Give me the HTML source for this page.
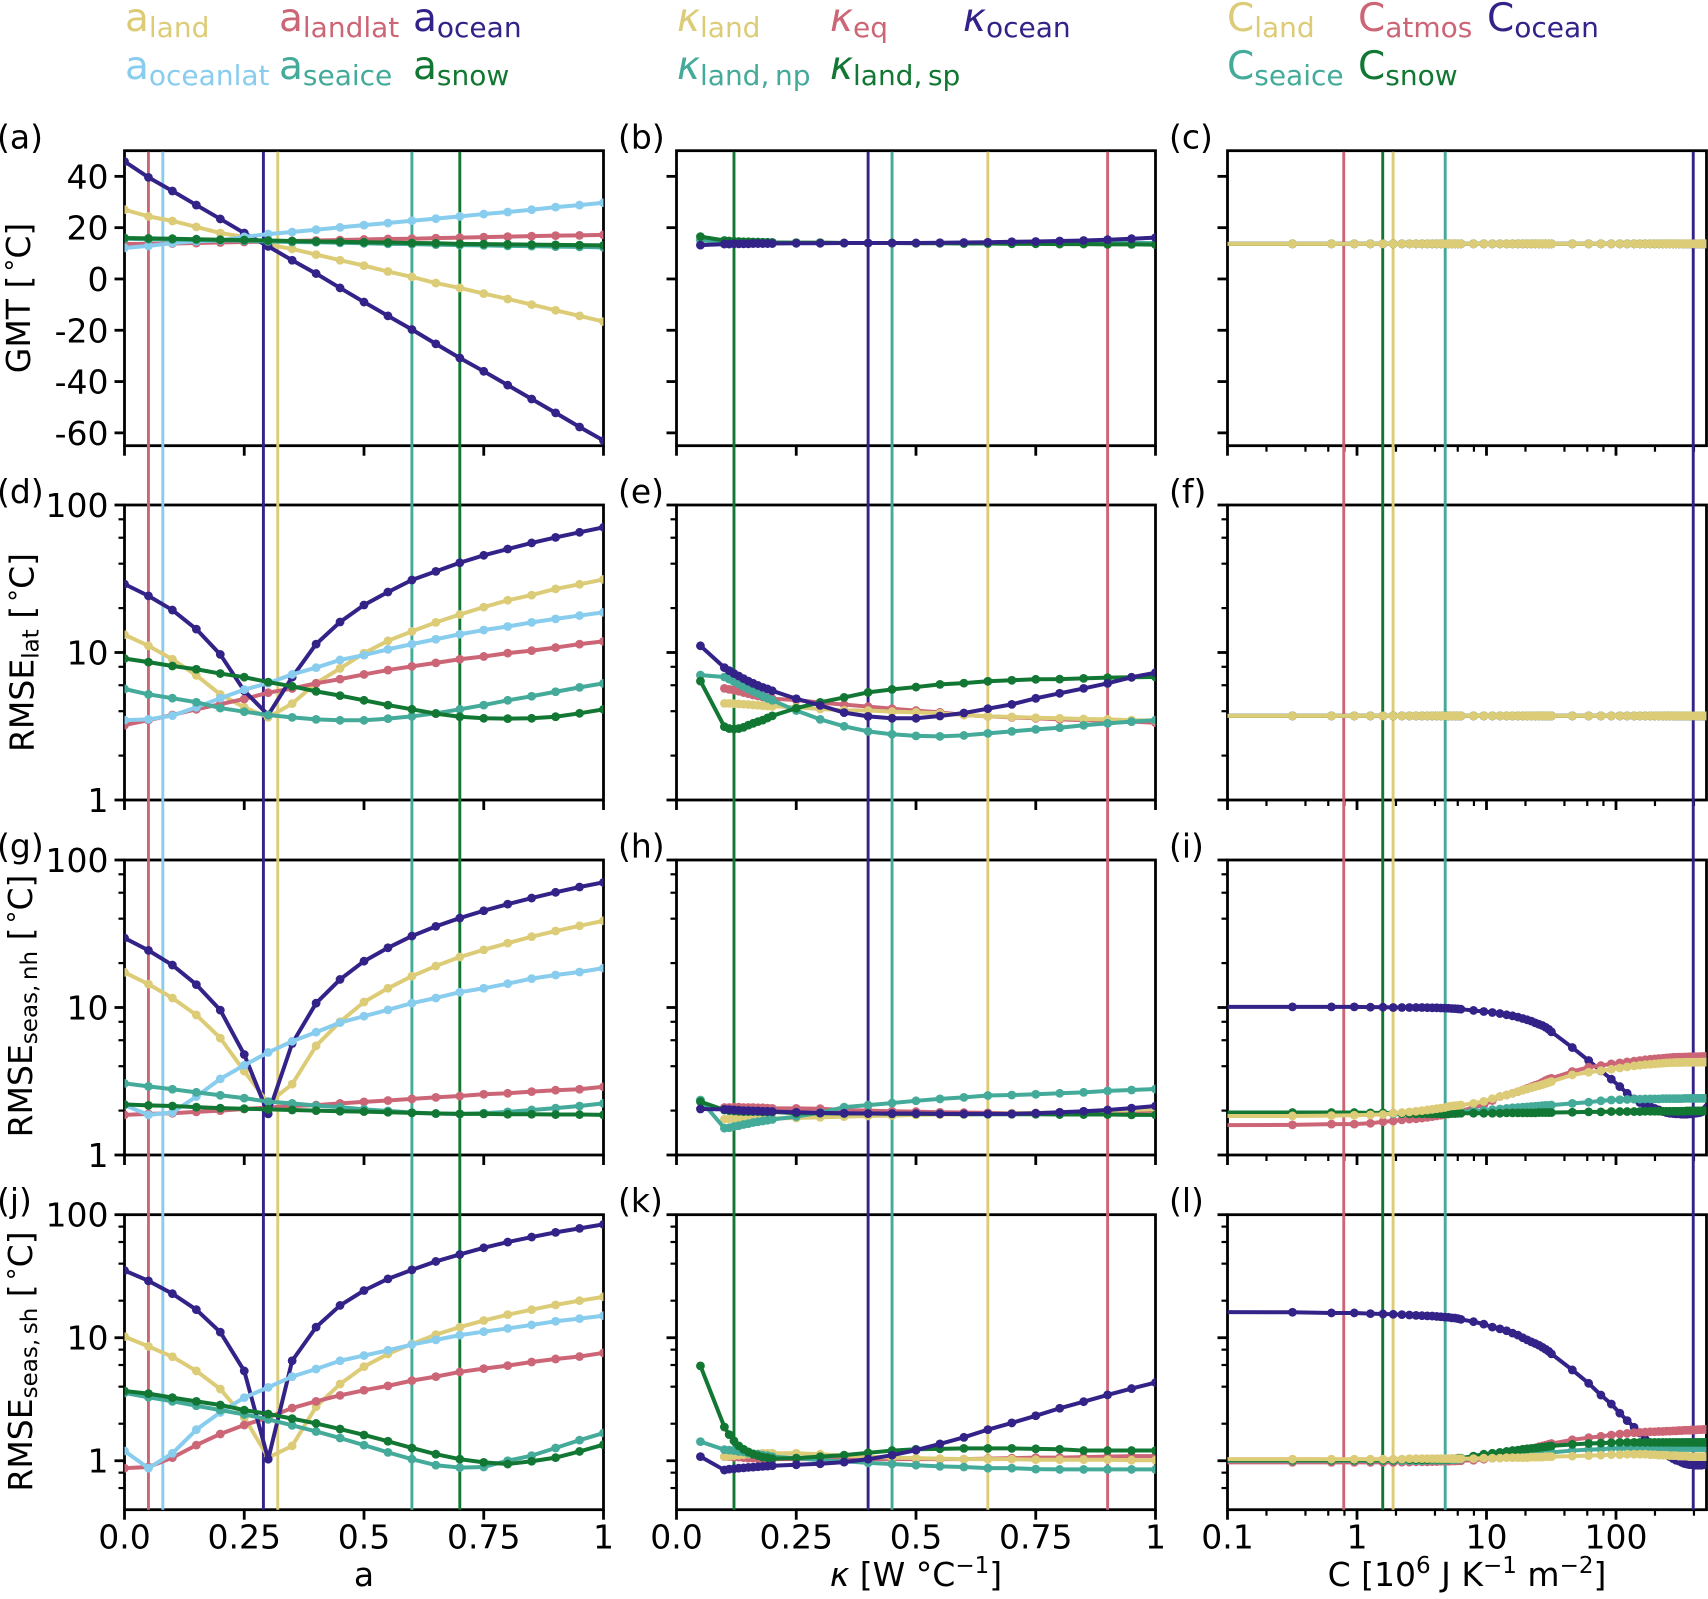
<!DOCTYPE html>
<html lang="en">
<head>
<meta charset="utf-8">
<title>Parameter sensitivity chart</title>
<style>
html,body{margin:0;padding:0;background:#fff;width:1708px;height:1599px;overflow:hidden}
svg{display:block;filter:blur(0.35px)}
text{font-family:"DejaVu Sans","Liberation Sans",sans-serif;fill:#000}
.lg{font-size:39px}
.lg tspan.s{font-size:28px}
.tl{font-size:33px}
.m{font-style:italic}
</style>
</head>
<body>
<svg id="chart" xmlns="http://www.w3.org/2000/svg" width="1708" height="1599" viewBox="0 0 1708 1599">
<rect x="0" y="0" width="1708" height="1599" fill="#fff"/>
<g id="axesLayer"></g>
<g id="vlineLayer"></g>
<g id="seriesLayer"></g>
<g id="tickLabelLayer"></g>

<g>
<text class="lg" x="125" y="31" style="fill:#DDCC77">a<tspan class="s" dy="6">land</tspan></text>
<text class="lg" x="279" y="31" style="fill:#CC6677">a<tspan class="s" dy="6">landlat</tspan></text>
<text class="lg" x="413" y="31" style="fill:#332288">a<tspan class="s" dy="6">ocean</tspan></text>
<text class="lg" x="125" y="79" style="fill:#88CCEE">a<tspan class="s" dy="6">oceanlat</tspan></text>
<text class="lg" x="279" y="79" style="fill:#44AA99">a<tspan class="s" dy="6">seaice</tspan></text>
<text class="lg" x="413" y="79" style="fill:#117733">a<tspan class="s" dy="6">snow</tspan></text>
</g>
<g>
<text class="lg" x="677" y="31" style="fill:#DDCC77"><tspan class="m">κ</tspan><tspan class="s" dy="6">land</tspan></text>
<text class="lg" x="830" y="31" style="fill:#CC6677"><tspan class="m">κ</tspan><tspan class="s" dy="6">eq</tspan></text>
<text class="lg" x="963" y="31" style="fill:#332288"><tspan class="m">κ</tspan><tspan class="s" dy="6">ocean</tspan></text>
<text class="lg" x="677" y="79" style="fill:#44AA99"><tspan class="m">κ</tspan><tspan class="s" dy="6">land,&#8201;np</tspan></text>
<text class="lg" x="830" y="79" style="fill:#117733"><tspan class="m">κ</tspan><tspan class="s" dy="6">land,&#8201;sp</tspan></text>
</g>
<g>
<text class="lg" x="1227" y="31" style="fill:#DDCC77">C<tspan class="s" dy="6">land</tspan></text>
<text class="lg" x="1358" y="31" style="fill:#CC6677">C<tspan class="s" dy="6">atmos</tspan></text>
<text class="lg" x="1487" y="31" style="fill:#332288">C<tspan class="s" dy="6">ocean</tspan></text>
<text class="lg" x="1227" y="79" style="fill:#44AA99">C<tspan class="s" dy="6">seaice</tspan></text>
<text class="lg" x="1358" y="79" style="fill:#117733">C<tspan class="s" dy="6">snow</tspan></text>
</g>

<g>
<text class="tl" x="-3" y="148.5">(a)</text>
<text class="tl" x="618" y="148.5">(b)</text>
<text class="tl" x="1169" y="148.5">(c)</text>
<text class="tl" x="-3" y="503">(d)</text>
<text class="tl" x="618" y="503">(e)</text>
<text class="tl" x="1169" y="503">(f)</text>
<text class="tl" x="-3" y="857.5">(g)</text>
<text class="tl" x="618" y="857.5">(h)</text>
<text class="tl" x="1169" y="857.5">(i)</text>
<text class="tl" x="-3" y="1212">(j)</text>
<text class="tl" x="618" y="1212">(k)</text>
<text class="tl" x="1169" y="1212">(l)</text>
</g>

<g>
<text class="tl" transform="translate(30,298) rotate(-90)" text-anchor="middle">GMT [<tspan dx="4" font-size="26" dy="-6">°</tspan><tspan dy="6">C]</tspan></text>
<text class="tl" transform="translate(33.5,652.5) rotate(-90)" text-anchor="middle">RMSE<tspan font-size="23" dy="5">lat</tspan><tspan dy="-5"> [</tspan><tspan dx="4" font-size="26" dy="-6">°</tspan><tspan dy="6">C]</tspan></text>
<text class="tl" transform="translate(32,1006) rotate(-90)" text-anchor="middle">RMSE<tspan font-size="23" dy="5">seas,&#8201;nh</tspan><tspan dy="-5"> [</tspan><tspan dx="4" font-size="26" dy="-6">°</tspan><tspan dy="6">C]</tspan></text>
<text class="tl" transform="translate(32,1361.5) rotate(-90)" text-anchor="middle">RMSE<tspan font-size="23" dy="5">seas,&#8201;sh</tspan><tspan dy="-5"> [</tspan><tspan dx="4" font-size="26" dy="-6">°</tspan><tspan dy="6">C]</tspan></text>
<text class="tl" x="364" y="1586" text-anchor="middle">a</text>
<text class="tl" x="916" y="1586" text-anchor="middle"><tspan class="m">κ</tspan> [W °C<tspan font-size="23" dy="-13">−1</tspan><tspan dy="13">]</tspan></text>
<text class="tl" x="1467" y="1586" text-anchor="middle">C [10<tspan font-size="23" dy="-13">6</tspan><tspan dy="13"> J K</tspan><tspan font-size="23" dy="-13">−1</tspan><tspan dy="13"> m</tspan><tspan font-size="23" dy="-13">−2</tspan><tspan dy="13">]</tspan></text>
</g>
</svg>

<script>
// ---------- x positions of the model runs ----------
const albedoX = [0,.05,.1,.15,.2,.25,.3,.35,.4,.45,.5,.55,.6,.65,.7,.75,.8,.85,.9,.95,1];
const kappaX = [.05,.1,.11,.12,.13,.14,.15,.16,.17,.18,.19,.2,.25,.3,.35,.4,.45,.5,.55,.6,.65,.7,.75,.8,.85,.9,.95,1];
const capX = [0.05,
 .3175,.635,.9525,1.27,1.5875,1.905,2.2225,2.54,2.8575,3.175,3.4925,3.81,4.1275,4.445,4.7625,5.08,5.3975,5.715,6.0325,6.35,
 7.94,9.53,11.1,12.7,14.3,15.9,17.5,19.05,20.6,22.2,23.8,25.4,27,28.6,30.2,31.75,
 46,61.5,76.5,92,107,122,138,153,168,184,199,214,230,245,260,276,291,306,322,337,352,368,383,398,413,429,444,459,475,490,505];

// ---------- default parameter values (vertical lines) ----------
const albedoDefaults = [.05,.08,.29,.32,.6,.7];
const albedoDefaultNames = ['landlat','oceanlat','ocean','land','seaice','snow'];
const kappaDefaults = [.12,.4,.45,.65,.9];
const kappaDefaultNames = ['land-sp','ocean','land-np','land','eq'];
const capDefaults = [.79,1.58,1.9,4.8,395];
const capDefaultNames = ['atmos','snow','land','seaice','ocean'];

// ---------- tick labels ----------
const linearXTicks = [0,.25,.5,.75,1];
const linearXLabels = ['0.0','0.25','0.5','0.75','1'];
const capXTicks = [.1,1,10,100];
const capXLabels = ['0.1','1','10','100'];
const capXMinor = [.2,.4,.6,.8,2,4,6,8,20,40,60,80,200,400];
const gmtTicks = [40,20,0,-20,-40,-60];
const gmtLabels = ['40','20','0','-20','-40','-60'];
const logTicks = [100,10,1];
const logLabels = ['100','10','1'];
const logMinor = [.6,.8,.4,2,4,6,8,20,40,60,80];

// ---------- panel (a) GMT vs albedo ----------
const aLand = [27,24.4,22.6,20.3,17.9,16.4,13.4,11.7,9.5,7.3,5.2,2.9,.8,-1.6,-3.5,-5.7,-7.8,-10,-12.2,-14.4,-16.6];
const aLandlat = [13.6,13.7,13.8,14,14.2,14.4,14.6,14.8,15,15.2,15.4,15.6,15.7,15.9,16.1,16.3,16.5,16.7,16.9,17,17.2];
const aOcean = [45.8,39.6,34.3,28.8,23.4,17.9,12.7,7.3,2.1,-3.5,-9,-14.4,-19.7,-25.3,-30.8,-36,-41.4,-46.8,-52.2,-57.7,-63];
const aOceanlat = [12.1,12.9,14,14.7,15,16.4,17.5,18.3,19.2,20.1,21,21.8,22.7,23.5,24.4,25.3,26.1,27,28,28.8,29.7];
const aSeaice = [15.7,15.5,15.4,15.2,15.1,14.9,14.6,14.4,14.3,14.1,13.9,13.7,13.6,13.4,13.2,13.1,12.9,12.8,12.6,12.5,12.3];
const aSnow = [16,15.8,15.7,15.5,15.3,15.2,15,14.8,14.6,14.5,14.3,14.2,14,13.9,13.7,13.6,13.5,13.4,13.3,13.2,13.1];

// ---------- panel (d) RMSE lat vs albedo ----------
const dLand = [13.2,11.1,9,7,5.2,4.25,3.63,4.5,6.2,7.8,9.9,12,13.9,16,18.1,20.3,22.6,24.5,27,29,31.3];
const dLandlat = [3.22,3.48,3.77,4.12,4.46,4.84,5.34,5.7,6.18,6.6,7.1,7.6,8.05,8.5,9,9.4,9.9,10.3,10.8,11.4,11.9];
const dOcean = [29.1,24.2,19.4,14.4,9.7,5.5,3.77,6.8,11.4,16.1,21,25.7,31,35.5,40.6,45.6,50.3,55.3,60.3,65.3,70.6];
const dOceanlat = [3.48,3.52,3.73,4.25,4.9,5.6,6.2,7.1,7.9,8.9,9.6,10.5,11.4,12.3,13.3,14.2,15,16,16.9,17.8,18.7];
const dSeaice = [5.66,5.2,4.9,4.6,4.2,3.97,3.77,3.63,3.52,3.47,3.47,3.56,3.69,3.87,4.12,4.4,4.74,5.05,5.42,5.8,6.18];
const dSnow = [9.1,8.6,8.1,7.7,7.2,6.8,6.3,5.9,5.45,5.1,4.74,4.4,4.12,3.85,3.67,3.58,3.56,3.58,3.67,3.87,4.12];

// ---------- panel (g) RMSE seasonal NH vs albedo ----------
const gLand = [17.3,14.4,11.6,8.9,6.2,3.7,2.25,3.02,5.5,8,10.9,13.5,16.3,19.1,22,24.6,27.3,30.2,33,35.8,38.7];
const gLandlat = [1.87,1.9,1.92,1.96,2,2.05,2.1,2.15,2.18,2.24,2.29,2.34,2.4,2.46,2.51,2.58,2.62,2.69,2.75,2.79,2.9];
const gOcean = [29.6,24.4,19.4,14.3,9.6,4.8,1.9,5.7,10.7,15.5,20.6,25.4,30.5,35.5,40.4,45.3,50.2,55.2,60.4,65.6,70.5];
const gOceanlat = [2.18,1.87,1.94,2.49,3.28,4.06,4.96,5.9,6.8,7.9,8.73,9.64,10.7,11.6,12.7,13.5,14.5,15.7,16.6,17.4,18.5];
const gSeaice = [3.06,2.92,2.79,2.66,2.54,2.43,2.3,2.24,2.16,2.11,2.04,1.99,1.94,1.91,1.9,1.92,1.96,2.02,2.08,2.15,2.24];
const gSnow = [2.2,2.17,2.15,2.11,2.08,2.06,2.04,2.02,2,1.98,1.97,1.95,1.93,1.91,1.9,1.9,1.89,1.89,1.88,1.88,1.87];

// ---------- panel (j) RMSE seasonal SH vs albedo ----------
const jLand = [10.2,8.5,7,5.37,3.83,2.25,1.06,1.32,2.75,4.2,5.82,7.38,8.9,10.6,12.2,13.8,15.4,16.9,18.5,20,21.5];
const jLandlat = [.87,.89,1.06,1.34,1.65,1.95,2.25,2.68,3.04,3.4,3.74,4.06,4.48,4.83,5.27,5.61,5.93,6.35,6.72,7.03,7.53];
const jOcean = [35.2,29,22.8,16.9,11.1,5.37,1.03,6.5,12.2,18.3,24.2,30.1,35.6,41.7,47.5,53.8,59.9,65.8,71.8,77.4,83.4];
const jOceanlat = [1.2,.87,1.15,1.79,2.47,3.26,3.95,4.83,5.57,6.5,7.16,7.9,8.8,9.6,10.5,11.2,11.9,12.7,13.6,14.3,15.1];
const jSeaice = [3.56,3.28,3.04,2.8,2.58,2.38,2.17,1.94,1.73,1.53,1.34,1.17,1.03,.92,.88,.89,1,1.1,1.27,1.47,1.68];
const jSnow = [3.69,3.51,3.26,3.04,2.84,2.58,2.4,2.2,2.01,1.81,1.62,1.44,1.27,1.13,1.03,.97,.94,.99,1.06,1.19,1.35];

// ---------- panel (b) GMT vs kappa ----------
const bEq = [null,14.4,14.4,14.4,14.3,14.3,14.3,14.3,14.2,14.2,14.2,14.2,14.1,14.1,14,14,14,14,14,14,14,14,14,14,14,14,14,14];
const bLand = [null,14.1,14.1,14.1,14.1,14.1,14.1,14.1,14.1,14.1,14.1,14.1,14.1,14.1,14,14,14,14,14,14,14,14,14,14,14,14,14,14];
const bNp = [15,14.6,14.5,14.4,14.4,14.3,14.3,14.3,14.2,14.2,14.2,14.2,14.1,14.1,14,14,14,14,14,14,14,14,14,14,14,14,14,14];
const bSp = [16.5,15,14.8,14.7,14.6,14.5,14.5,14.4,14.4,14.3,14.3,14.2,14.1,14.1,14,14,14,13.9,13.9,13.8,13.8,13.7,13.7,13.6,13.6,13.5,13.5,13.4];
const bOcean = [13.2,13.6,13.6,13.7,13.7,13.7,13.7,13.8,13.8,13.8,13.8,13.8,13.9,13.9,14,14,14,14,14.1,14.2,14.3,14.5,14.6,14.8,15,15.3,15.7,16.1];

// ---------- panel (e) RMSE lat vs kappa ----------
const eEq = [null,5.71,5.62,5.55,5.46,5.35,5.26,5.15,5.07,4.99,4.93,4.86,4.76,4.57,4.43,4.3,4.16,4.04,3.93,3.77,3.69,3.63,3.58,3.52,3.48,3.45,3.4,3.34];
const eLand = [null,4.52,4.52,4.5,4.48,4.46,4.44,4.41,4.39,4.36,4.34,4.31,4.25,4.14,4.06,4.04,3.97,3.93,3.87,3.77,3.69,3.66,3.61,3.58,3.54,3.52,3.48,3.45];
const eNp = [7.03,6.82,6.6,6.34,6.12,5.87,5.66,5.46,5.26,5.07,4.89,4.74,4.04,3.52,3.16,2.92,2.79,2.72,2.7,2.74,2.83,2.92,3.01,3.09,3.21,3.31,3.4,3.48];
const eSp = [6.4,3.14,3.05,3.03,3.05,3.11,3.22,3.31,3.4,3.48,3.6,3.72,4.19,4.59,4.96,5.37,5.62,5.83,6.08,6.2,6.38,6.48,6.58,6.6,6.68,6.75,6.79,6.82];
const eOcean = [11.1,7.9,7.53,7.2,6.93,6.65,6.4,6.18,5.98,5.8,5.66,5.5,4.86,4.38,3.91,3.69,3.58,3.58,3.71,3.89,4.16,4.45,4.89,5.29,5.71,6.18,6.79,7.3];

// ---------- panel (h) RMSE seasonal NH vs kappa ----------
const hEq = [null,2.1,2.1,2.11,2.11,2.1,2.1,2.1,2.09,2.09,2.08,2.07,2.07,2.06,2.02,2,1.98,1.97,1.95,1.94,1.93,1.92,1.92,1.92,1.95,1.97,1.98,2];
const hLand = [null,1.75,1.76,1.76,1.77,1.77,1.77,1.77,1.77,1.77,1.77,1.77,1.78,1.8,1.82,1.84,1.85,1.87,1.88,1.89,1.9,1.92,1.93,1.94,1.96,1.99,2.02,2.05];
const hNp = [2.36,1.52,1.53,1.56,1.58,1.61,1.63,1.66,1.68,1.7,1.72,1.74,1.82,1.94,2.11,2.18,2.25,2.33,2.4,2.46,2.53,2.55,2.58,2.62,2.66,2.72,2.76,2.8];
const hSp = [2.3,2.02,2,1.99,1.98,1.97,1.97,1.97,1.97,1.96,1.96,1.96,1.92,1.92,1.91,1.91,1.9,1.9,1.9,1.89,1.89,1.89,1.89,1.88,1.88,1.88,1.87,1.87];
const hOcean = [2.05,2.04,2.03,2.02,2.01,2,2,1.99,1.99,1.98,1.98,1.97,1.95,1.93,1.92,1.91,1.91,1.91,1.9,1.9,1.9,1.9,1.92,1.95,1.98,2.02,2.08,2.15];

// ---------- panel (k) RMSE seasonal SH vs kappa ----------
const kEq = [null,1.08,1.08,1.07,1.07,1.06,1.05,1.05,1.04,1.04,1.04,1.03,1.03,1.03,1.03,1.03,1.03,1.03,1.03,1.03,1.04,1.05,1.06,1.06,1.07,1.08,1.09,1.09];
const kLand = [null,1.08,1.09,1.1,1.11,1.12,1.13,1.14,1.14,1.15,1.15,1.15,1.15,1.13,1.1,1.08,1.06,1.05,1.04,1.03,1.03,1.03,1.02,1.02,1.02,1.02,1.01,1.01];
const kNp = [1.43,1.23,1.22,1.21,1.19,1.18,1.15,1.14,1.13,1.11,1.1,1.08,1.05,1.01,.99,.96,.94,.92,.9,.89,.87,.87,.855,.85,.85,.85,.85,.85];
const kSp = [5.9,1.88,1.63,1.45,1.32,1.24,1.18,1.13,1.1,1.07,1.06,1.04,1.05,1.08,1.11,1.16,1.21,1.24,1.25,1.26,1.26,1.26,1.25,1.24,1.21,1.21,1.21,1.21];
const kOcean = [1.08,.84,.855,.86,.87,.875,.883,.888,.894,.9,.905,.91,.927,.945,.975,1.03,1.11,1.22,1.37,1.55,1.79,2.03,2.32,2.67,3.02,3.43,3.86,4.32];

// ---------- panels (c) and (f): all capacity runs coincide ----------
const cAll = [13.7,13.7,13.7,13.7,13.7,13.7,13.7,13.7,13.7,13.7,13.7,13.7,13.7,13.7,13.7,13.7,13.7,13.7,13.7,13.7,13.7,13.7,13.7,13.7,13.7,13.7,13.7,13.7,13.7,13.7,13.7,13.7,13.7,13.7,13.7,13.7,13.7,13.7,13.7,13.7,13.7,13.7,13.7,13.7,13.7,13.7,13.7,13.7,13.7,13.7,13.7,13.7,13.7,13.7,13.7,13.7,13.7,13.7,13.7,13.7,13.7,13.7,13.7,13.7,13.7,13.7,13.7,13.7];
const fAll = [3.72,3.72,3.72,3.72,3.72,3.72,3.72,3.72,3.72,3.72,3.72,3.72,3.72,3.72,3.72,3.72,3.72,3.72,3.72,3.72,3.72,3.72,3.72,3.72,3.72,3.72,3.72,3.72,3.72,3.72,3.72,3.72,3.72,3.72,3.72,3.72,3.72,3.72,3.72,3.72,3.72,3.72,3.72,3.72,3.72,3.72,3.72,3.72,3.72,3.72,3.72,3.72,3.72,3.72,3.72,3.72,3.72,3.72,3.72,3.72,3.72,3.72,3.72,3.72,3.72,3.72,3.72,3.72];

// ---------- panel (i) RMSE seasonal NH vs capacity ----------
const iOcean = [10.1,
 10.1,10.1,10.1,10.05,10.05,10,10,10,10,10,9.97,9.95,9.95,9.92,9.9,9.88,9.85,9.82,9.78,9.74,
 9.55,9.39,9.25,9.1,8.92,8.78,8.6,8.42,8.25,8.08,7.87,7.7,7.55,7.35,7.12,6.84,
 5.35,4.37,3.72,3.27,2.91,2.62,2.4,2.27,2.18,2.13,2.07,2.02,1.97,1.94,1.92,1.91,1.9,1.9,1.89,1.89,1.89,1.9,1.9,1.91,1.92,1.93,1.94,1.96,1.99,2.04,2.1];
const iAtmos = [1.59,
 1.6,1.62,1.62,1.64,1.68,1.7,1.73,1.75,1.76,1.78,1.8,1.82,1.84,1.86,1.88,1.9,1.92,1.94,1.96,1.99,
 2.1,2.18,2.34,2.49,2.55,2.62,2.69,2.76,2.83,2.9,2.97,3.03,3.11,3.2,3.27,3.31,
 3.68,3.94,4.04,4.15,4.21,4.28,4.33,4.37,4.42,4.46,4.48,4.51,4.53,4.55,4.57,4.6,4.6,4.61,4.61,4.62,4.62,4.63,4.63,4.63,4.64,4.64,4.64,4.65,4.65,4.65,4.65];
const iSeaice = [1.92,
 1.92,1.92,1.91,1.91,1.9,1.9,1.9,1.9,1.9,1.9,1.9,1.91,1.92,1.93,1.94,1.94,1.95,1.96,1.97,1.97,
 1.99,2,2.03,2.05,2.07,2.09,2.1,2.11,2.12,2.13,2.14,2.15,2.16,2.17,2.17,2.18,
 2.24,2.28,2.33,2.36,2.37,2.38,2.39,2.39,2.4,2.4,2.4,2.4,2.41,2.41,2.41,2.41,2.41,2.41,2.41,2.42,2.42,2.42,2.42,2.42,2.42,2.42,2.42,2.42,2.42,2.42,2.42];
const iSnow = [1.94,
 1.94,1.94,1.94,1.93,1.93,1.92,1.91,1.9,1.9,1.9,1.9,1.9,1.9,1.9,1.9,1.9,1.91,1.91,1.92,1.92,
 1.92,1.92,1.92,1.92,1.93,1.93,1.93,1.93,1.93,1.93,1.93,1.94,1.94,1.94,1.94,1.94,
 1.95,1.96,1.96,1.97,1.97,1.97,1.97,1.97,1.98,1.98,1.98,1.98,1.98,1.98,1.98,1.98,1.98,1.98,1.98,1.98,1.99,1.99,1.99,1.99,1.99,1.99,1.99,1.99,1.99,1.99,1.99];
const iLand = [1.84,
 1.84,1.85,1.86,1.87,1.88,1.92,1.94,1.96,1.98,2,2.02,2.04,2.06,2.08,2.1,2.13,2.15,2.16,2.17,2.18,
 2.24,2.31,2.41,2.49,2.55,2.62,2.69,2.75,2.8,2.86,2.91,2.95,3,3.05,3.1,3.15,
 3.49,3.64,3.73,3.81,3.89,3.96,4.02,4.06,4.1,4.12,4.15,4.17,4.19,4.21,4.22,4.23,4.24,4.24,4.24,4.25,4.25,4.25,4.25,4.25,4.25,4.25,4.26,4.26,4.26,4.26,4.26];

// ---------- panel (l) RMSE seasonal SH vs capacity ----------
const lOcean = [16.2,
 16.1,15.9,15.9,15.7,15.6,15.5,15.4,15.3,15.2,15.1,15.05,15,14.9,14.8,14.7,14.65,14.5,14.45,14.3,14.1,
 13.5,12.9,12.2,11.8,11.4,10.9,10.5,10,9.6,9.25,8.97,8.69,8.37,8.06,7.76,7.39,
 5.47,4.26,3.42,2.89,2.44,2.12,1.87,1.68,1.5,1.37,1.28,1.22,1.17,1.12,1.08,1.04,1.01,.995,.97,.95,.94,.93,.93,.925,.92,.92,.92,.92,.93,.93,.93];
const lAtmos = [.97,
 .97,.97,.97,.97,.97,.97,.975,.975,.98,.98,.98,.985,.985,.99,.99,.99,.995,.995,1,1,
 1.01,1.03,1.05,1.08,1.1,1.13,1.16,1.19,1.21,1.24,1.27,1.3,1.32,1.34,1.36,1.38,
 1.48,1.54,1.58,1.62,1.65,1.67,1.69,1.7,1.71,1.72,1.72,1.73,1.73,1.74,1.74,1.75,1.75,1.76,1.76,1.77,1.77,1.77,1.78,1.78,1.78,1.79,1.79,1.79,1.8,1.8,1.8];
const lSeaice = [1,
 1,1,1,1,1,1,1,1,1,1,1.01,1.01,1.01,1.01,1.01,1.02,1.02,1.02,1.03,1.03,
 1.04,1.05,1.05,1.06,1.07,1.08,1.09,1.1,1.11,1.12,1.13,1.14,1.15,1.15,1.16,1.17,
 1.21,1.23,1.24,1.26,1.27,1.27,1.27,1.27,1.27,1.27,1.27,1.27,1.27,1.27,1.27,1.27,1.27,1.28,1.28,1.28,1.28,1.28,1.28,1.28,1.28,1.28,1.28,1.28,1.28,1.28,1.28];
const lSnow = [1.01,
 1.01,1.01,1.01,1.01,1.01,1.01,1.02,1.02,1.02,1.02,1.02,1.03,1.03,1.03,1.03,1.03,1.04,1.04,1.05,1.05,
 1.09,1.13,1.15,1.17,1.19,1.21,1.22,1.24,1.25,1.26,1.27,1.28,1.29,1.3,1.31,1.32,
 1.36,1.38,1.39,1.4,1.41,1.41,1.41,1.41,1.41,1.41,1.41,1.41,1.41,1.41,1.41,1.41,1.41,1.41,1.41,1.41,1.41,1.41,1.41,1.41,1.41,1.41,1.41,1.41,1.41,1.41,1.41];
const lLand = [1.03,
 1.03,1.03,1.03,1.03,1.03,1.03,1.03,1.04,1.04,1.04,1.04,1.04,1.04,1.04,1.04,1.04,1.04,1.04,1.04,1.04,
 1.04,1.05,1.05,1.05,1.06,1.06,1.06,1.06,1.06,1.07,1.07,1.07,1.07,1.08,1.08,1.08,
 1.09,1.1,1.11,1.12,1.12,1.13,1.13,1.13,1.13,1.12,1.12,1.11,1.11,1.11,1.1,1.1,1.1,1.09,1.09,1.09,1.09,1.08,1.08,1.08,1.08,1.08,1.08,1.08,1.08,1.08,1.08];

// ---------- colours (series identity) ----------
const SAND = '#DDCC77', ROSE = '#CC6677', INDIGO = '#332288', SKY = '#88CCEE', TEAL = '#44AA99', GREEN = '#117733';

// ---------- layout ----------
const NS = 'http://www.w3.org/2000/svg';
const axW = 479, axH = 295;
const colLeft = [124.5, 676.5, 1227.5];
const rowTop = [150.7, 505, 860, 1214.7];

const xScales = [
  v => colLeft[0] + v * axW,
  v => colLeft[1] + v * axW,
  v => colLeft[2] + (Math.log10(v) + 1) / (Math.log10(500) + 1) * axW
];
const yDomains = [
  {log:false, min:-65, max:50},
  {log:true, min:1, max:100},
  {log:true, min:1, max:100},
  {log:true, min:.4, max:100}
];
function yScale(row, v) {
  const d = yDomains[row];
  const f = d.log
    ? (Math.log10(v) - Math.log10(d.min)) / (Math.log10(d.max) - Math.log10(d.min))
    : (v - d.min) / (d.max - d.min);
  return rowTop[row] + axH - f * axH;
}

function mk(tag, attrs, parent) {
  const el = document.createElementNS(NS, tag);
  for (const k in attrs) el.setAttribute(k, attrs[k]);
  parent.appendChild(el);
  return el;
}

const axesLayer = document.getElementById('axesLayer');
const vlineLayer = document.getElementById('vlineLayer');
const seriesLayer = document.getElementById('seriesLayer');
const tickLabelLayer = document.getElementById('tickLabelLayer');
const defs = mk('defs', {}, document.getElementById('chart'));

const letters = ['a','b','c','d','e','f','g','h','i','j','k','l'];

// ---------- axes ----------
for (let r = 0; r < 4; r++) {
  for (let c = 0; c < 3; c++) {
    const name = 'panel-' + letters[r * 3 + c];
    const left = colLeft[c], top = rowTop[r], bottom = top + axH, right = left + axW;
    const g = mk('g', {}, axesLayer);
    
    

    const clip = mk('clipPath', {id: 'clip-' + letters[r * 3 + c]}, defs);
    mk('rect', {x: left, y: top, width: axW, height: axH}, clip);

    const xt = c === 2 ? capXTicks : linearXTicks;
    const xl = c === 2 ? capXLabels : linearXLabels;
    xt.forEach((t, i) => {
      const x = xScales[c](t);
      const tick = mk('line', {x1: x, x2: x, y1: bottom, y2: bottom + 10, stroke: '#000', 'stroke-width': 2.8}, g);
      
      
      if (r === 3) {
        const lab = mk('text', {x: x, y: bottom + 39, 'text-anchor': 'middle', class: 'tl'}, tickLabelLayer);
        
        
        lab.textContent = xl[i];
      }
    });
    if (c === 2) {
      capXMinor.forEach(t => {
        const x = xScales[c](t);
        const tick = mk('line', {x1: x, x2: x, y1: bottom, y2: bottom + 6, stroke: '#000', 'stroke-width': 2.2}, g);
        
        
      });
    }

    const yt = r === 0 ? gmtTicks : logTicks;
    const yl = r === 0 ? gmtLabels : logLabels;
    yt.forEach((t, i) => {
      const y = yScale(r, t);
      const tick = mk('line', {x1: left - 10, x2: left, y1: y, y2: y, stroke: '#000', 'stroke-width': 2.8}, g);
      
      
      if (c === 0) {
        const lab = mk('text', {x: left - 16, y: y + 12, 'text-anchor': 'end', class: 'tl'}, tickLabelLayer);
        
        
        lab.textContent = yl[i];
      }
    });
    if (r > 0) {
      logMinor.forEach(t => {
        if (t <= yDomains[r].min) return;
        const y = yScale(r, t);
        const tick = mk('line', {x1: left - 6, x2: left, y1: y, y2: y, stroke: '#000', 'stroke-width': 2.2}, g);
        
        
      });
    }

    const frame = mk('rect', {x: left, y: top, width: axW, height: axH, fill: 'none', stroke: '#000', 'stroke-width': 2.8}, g);
    
    
  }
}

// ---------- default-value vertical lines ----------
const vlineSpec = [
  {col:0, vals:albedoDefaults, names:albedoDefaultNames, colors:[ROSE,SKY,INDIGO,SAND,TEAL,GREEN]},
  {col:1, vals:kappaDefaults, names:kappaDefaultNames, colors:[GREEN,INDIGO,TEAL,SAND,ROSE]},
  {col:2, vals:capDefaults, names:capDefaultNames, colors:[ROSE,GREEN,SAND,TEAL,INDIGO]}
];
vlineSpec.forEach(s => {
  s.vals.forEach((v, i) => {
    const x = xScales[s.col](v);
    const ln = mk('line', {x1: x, x2: x, y1: rowTop[0] + 1, y2: rowTop[3] + axH, stroke: s.colors[i], 'stroke-width': 2.9}, vlineLayer);
    
    
  });
});

// ---------- series, back to front in each panel ----------
const panelSeries = [
  {p:'a', r:0, c:0, xs:albedoX, s:[['land',aLand,SAND],['landlat',aLandlat,ROSE],['ocean',aOcean,INDIGO],['oceanlat',aOceanlat,SKY],['seaice',aSeaice,TEAL],['snow',aSnow,GREEN]]},
  {p:'d', r:1, c:0, xs:albedoX, s:[['land',dLand,SAND],['landlat',dLandlat,ROSE],['ocean',dOcean,INDIGO],['oceanlat',dOceanlat,SKY],['seaice',dSeaice,TEAL],['snow',dSnow,GREEN]]},
  {p:'g', r:2, c:0, xs:albedoX, s:[['land',gLand,SAND],['landlat',gLandlat,ROSE],['ocean',gOcean,INDIGO],['oceanlat',gOceanlat,SKY],['seaice',gSeaice,TEAL],['snow',gSnow,GREEN]]},
  {p:'j', r:3, c:0, xs:albedoX, s:[['land',jLand,SAND],['landlat',jLandlat,ROSE],['ocean',jOcean,INDIGO],['oceanlat',jOceanlat,SKY],['seaice',jSeaice,TEAL],['snow',jSnow,GREEN]]},
  {p:'b', r:0, c:1, xs:kappaX, s:[['eq',bEq,ROSE],['land',bLand,SAND],['land-np',bNp,TEAL],['land-sp',bSp,GREEN],['ocean',bOcean,INDIGO]]},
  {p:'e', r:1, c:1, xs:kappaX, s:[['eq',eEq,ROSE],['land',eLand,SAND],['land-np',eNp,TEAL],['land-sp',eSp,GREEN],['ocean',eOcean,INDIGO]]},
  {p:'h', r:2, c:1, xs:kappaX, s:[['eq',hEq,ROSE],['land',hLand,SAND],['land-np',hNp,TEAL],['land-sp',hSp,GREEN],['ocean',hOcean,INDIGO]]},
  {p:'k', r:3, c:1, xs:kappaX, s:[['eq',kEq,ROSE],['land',kLand,SAND],['land-np',kNp,TEAL],['land-sp',kSp,GREEN],['ocean',kOcean,INDIGO]]},
  {p:'c', r:0, c:2, xs:capX, s:[['ocean',cAll,INDIGO],['atmos',cAll,ROSE],['seaice',cAll,TEAL],['snow',cAll,GREEN],['land',cAll,SAND]]},
  {p:'f', r:1, c:2, xs:capX, s:[['ocean',fAll,INDIGO],['atmos',fAll,ROSE],['seaice',fAll,TEAL],['snow',fAll,GREEN],['land',fAll,SAND]]},
  {p:'i', r:2, c:2, xs:capX, s:[['ocean',iOcean,INDIGO],['atmos',iAtmos,ROSE],['seaice',iSeaice,TEAL],['snow',iSnow,GREEN],['land',iLand,SAND]]},
  {p:'l', r:3, c:2, xs:capX, s:[['ocean',lOcean,INDIGO],['atmos',lAtmos,ROSE],['seaice',lSeaice,TEAL],['snow',lSnow,GREEN],['land',lLand,SAND]]}
];

panelSeries.forEach(panel => {
  const pg = mk('g', {'clip-path': 'url(#clip-' + panel.p + ')'}, seriesLayer);
  
  
  panel.s.forEach(spec => {
    const sName = spec[0], vals = spec[1], color = spec[2];
    const sg = mk('g', {}, pg);
    
    
    const pts = [];
    panel.xs.forEach((xv, i) => {
      const v = vals[i];
      if (v === null || v === undefined) return;
      pts.push([xScales[panel.c](xv), yScale(panel.r, v)]);
    });
    const line = mk('polyline', {
      points: pts.map(p => p[0].toFixed(2) + ',' + p[1].toFixed(2)).join(' '),
      fill: 'none', stroke: color, 'stroke-width': 4, 'stroke-linejoin': 'round'
    }, sg);
    
    
    pts.forEach(p => {
      const dot = mk('circle', {cx: p[0].toFixed(2), cy: p[1].toFixed(2), r: 4.4, fill: color}, sg);
      
      
    });
  });
});
</script>
</body>
</html>
